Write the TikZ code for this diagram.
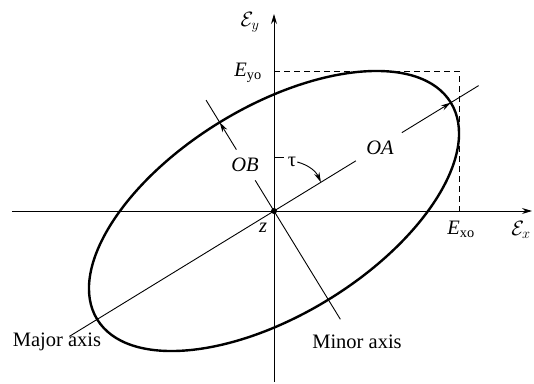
\documentclass[tikz,border=0pt]{standalone}
\usepackage{fontspec}
\setmainfont{Liberation Serif}
\usetikzlibrary{arrows.meta}
\tikzset{
    lbl/.style={font=\fontsize{20.5}{24}\selectfont, inner sep=1pt},
    axisline/.style={line width=1pt, -{Stealth[length=10pt, width=6pt]}},
    thinline/.style={line width=0.9pt},
    arrowline/.style={line width=0.9pt, -{Stealth[length=10pt, width=5.5pt]}},
    ellipseline/.style={line width=2.4pt},
    boxline/.style={line width=0.9pt, dash pattern=on 6pt off 4pt}
}
\begin{document}
\begin{tikzpicture}[x=1pt, y=1pt]
    \useasboundingbox (-274,-172) rectangle (260,211);

    \coordinate (origin) at (0,0);
    \coordinate (x_start) at (-262,0);
    \coordinate (x_end) at (258,0);
    \coordinate (y_start) at (0,-171);
    \coordinate (y_end) at (0,197);
    \coordinate (exo) at (185,0);
    \coordinate (eyo) at (0,140);
    \coordinate (corner) at (185,140);
    \coordinate (maj_lo) at (211.5:240);
    \coordinate (maj_in) at (31.5:96);
    \coordinate (oa_from) at (31.5:150);
    \coordinate (oa_tip) at (31.5:207.4);
    \coordinate (maj_hi) at (31.5:240);
    \coordinate (min_lo) at (-58.5:127);
    \coordinate (min_in) at (121.5:36);
    \coordinate (ob_from) at (121.5:72);
    \coordinate (ob_tip) at (121.5:104);
    \coordinate (min_hi) at (121.5:130);
    \coordinate (tau_tick) at (0,54);
    \coordinate (tau_tip) at (31.5:55);

    \node (ey_lbl) [lbl] at (-24,189) {$\mathcal{E}_y$};
    \node (eyo_lbl) [lbl] at (-26,138) {\textit{E}\textsubscript{yo}};
    \node (ex_lbl) [lbl] at (247,-19) {$\mathcal{E}_x$};
    \node (exo_lbl) [lbl] at (187,-18) {\textit{E}\textsubscript{xo}};
    \node (z_lbl) [lbl] at (-11,-17) {\textit{z}};
    \node (ob_lbl) [lbl] at (-29,46) {\textit{OB}};
    \node (oa_lbl) [lbl] at (106,63) {\textit{OA}};
    \node (tau_lbl) [lbl] at (18,49) {τ};
    \node (major_lbl) [lbl] at (-217,-131) {Major axis};
    \node (minor_lbl) [lbl] at (83,-131) {Minor axis};

    \draw [boxline] (eyo) -- (corner) -- (exo);
    \draw [axisline] (x_start) -- (x_end);
    \draw [axisline] (y_start) -- (y_end);
    \draw [ellipseline, rotate=31.5] (origin) ellipse [x radius=207.4pt, y radius=104pt];

    \draw [thinline] (maj_lo) -- (maj_in);
    \draw [arrowline] (oa_from) -- (oa_tip);
    \draw [thinline] (oa_tip) -- (maj_hi);
    \draw [thinline] (min_lo) -- (min_in);
    \draw [arrowline] (ob_from) -- (ob_tip);
    \draw [thinline] (ob_tip) -- (min_hi);

    \draw [thinline] (tau_tick) -- ++(10,0);
    \draw [arrowline] (tau_lbl.east) to[bend left=25] (tau_tip);

    \fill (origin) circle (3pt);
\end{tikzpicture}
\end{document}
